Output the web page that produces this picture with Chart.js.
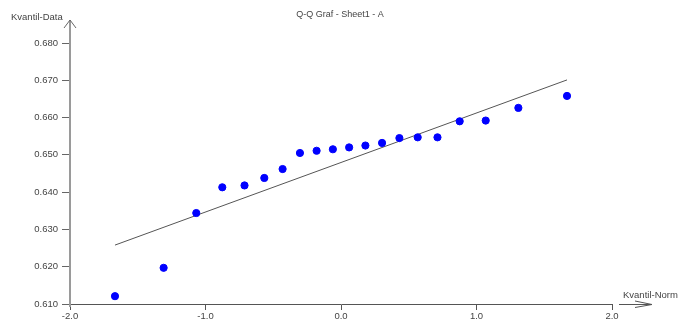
<!DOCTYPE html>
<html>
<head>
<meta charset="utf-8">
<script src="https://cdn.jsdelivr.net/npm/chart.js@4"></script>
<style>
  html, body { margin: 0; padding: 0; background: #ffffff; }
  #wrap { width: 690px; height: 322px; position: relative; }
</style>
</head>
<body>
<div id="wrap"><canvas id="c" width="690" height="322"></canvas></div>
<script>
// ---- data ----
const titleText = "Q-Q Graf - Sheet1 - A";
const yAxisLabel = "Kvantil-Data";
const xAxisLabel = "Kvantil-Norm";
const normQuantiles = [-1.668, -1.309, -1.068, -0.876, -0.712, -0.566, -0.431, -0.303, -0.180, -0.060,
                        0.060,  0.180,  0.303,  0.431,  0.566,  0.712,  0.876,  1.068,  1.309,  1.668];
const dataQuantiles = [0.6121, 0.6197, 0.6344, 0.6413, 0.6418, 0.6438, 0.6462, 0.6505, 0.6511, 0.6515,
                       0.6520, 0.6525, 0.6532, 0.6545, 0.6547, 0.6547, 0.6590, 0.6592, 0.6626, 0.6658];
const fitLineX = [-1.668, 1.668];
const fitLineY = [0.6258, 0.6701];
const xTickValues = [-2.0, -1.0, 0.0, 1.0, 2.0];
const yTickValues = [0.610, 0.620, 0.630, 0.640, 0.650, 0.660, 0.670, 0.680];

const FONT = "'Liberation Sans', Arial, sans-serif";
const TEXT_COLOR = "#444444";

const pointsData = normQuantiles.map((x, i) => ({ x: x, y: dataQuantiles[i] }));
const lineData = fitLineX.map((x, i) => ({ x: x, y: fitLineY[i] }));

const decorPlugin = {
  id: 'decor',
  afterDraw(chart) {
    const ctx = chart.ctx;
    const a = chart.chartArea;
    ctx.save();
    // y axis extension + arrow
    ctx.strokeStyle = '#9a9a9a';
    ctx.lineWidth = 2;
    ctx.beginPath();
    ctx.moveTo(a.left, a.top);
    ctx.lineTo(a.left, a.top - 23);
    ctx.moveTo(a.left, a.bottom);
    ctx.lineTo(a.left, a.bottom + 3);
    ctx.stroke();
    ctx.strokeStyle = '#666666';
    ctx.lineWidth = 1;
    ctx.beginPath();
    ctx.moveTo(a.left - 6, a.top - 15);
    ctx.lineTo(a.left, a.top - 23);
    ctx.lineTo(a.left + 6, a.top - 15);
    ctx.stroke();
    // x axis arrow
    ctx.strokeStyle = '#555555';
    ctx.lineWidth = 1;
    ctx.beginPath();
    ctx.moveTo(a.right + 7, a.bottom + 0.5);
    ctx.lineTo(a.right + 40, a.bottom + 0.5);
    ctx.moveTo(a.right + 23, a.bottom - 3);
    ctx.lineTo(a.right + 40, a.bottom + 0.5);
    ctx.lineTo(a.right + 23, a.bottom + 3.5);
    ctx.stroke();
    // texts
    ctx.fillStyle = TEXT_COLOR;
    ctx.font = "9px " + FONT;
    ctx.textBaseline = 'middle';
    ctx.textAlign = 'center';
    ctx.fillText(titleText, (a.left + a.right) / 2 - 1, 15);
    ctx.textAlign = 'left';
    ctx.font = "9.5px " + FONT;
    ctx.fillText(yAxisLabel, 11, 17);
    ctx.fillText(xAxisLabel, a.right + 11, a.bottom - 9);
    ctx.restore();
  }
};

new Chart(document.getElementById('c'), {
  type: 'scatter',
  data: {
    datasets: [
      {
        label: 'Data',
        data: pointsData,
        backgroundColor: '#0000ff',
        borderColor: '#0000ff',
        pointRadius: 3.6,
        pointHoverRadius: 3.6,
        showLine: false,
        order: 1
      },
      {
        label: 'Fit',
        data: lineData,
        showLine: true,
        borderColor: '#555555',
        borderWidth: 1,
        pointRadius: 0,
        fill: false,
        order: 2
      }
    ]
  },
  options: {
    responsive: false,
    animation: false,
    events: [],
    layout: { padding: { left: 0, right: 78, top: 43, bottom: 0 } },
    plugins: {
      legend: { display: false },
      title: { display: false },
      tooltip: { enabled: false }
    },
    scales: {
      x: {
        type: 'linear',
        min: xTickValues[0],
        max: xTickValues[xTickValues.length - 1],
        afterBuildTicks(scale) { scale.ticks = xTickValues.map(v => ({ value: v })); },
        afterFit(scale) { scale.height = 18; },
        ticks: {
          callback: v => Number(v).toFixed(1),
          color: TEXT_COLOR,
          font: { family: FONT, size: 9.5 },
          padding: 1,
          maxRotation: 0,
          autoSkip: false
        },
        grid: { drawOnChartArea: false, drawTicks: true, tickLength: 6, color: '#555555', tickColor: '#555555' },
        border: { display: true, color: '#555555', width: 1 }
      },
      y: {
        type: 'linear',
        min: yTickValues[0],
        max: yTickValues[yTickValues.length - 1],
        afterBuildTicks(scale) { scale.ticks = yTickValues.map(v => ({ value: v })); },
        afterFit(scale) { scale.width = 70; },
        ticks: {
          callback: v => Number(v).toFixed(3),
          color: TEXT_COLOR,
          font: { family: FONT, size: 9.5 },
          padding: 4,
          autoSkip: false
        },
        grid: { drawOnChartArea: false, drawTicks: true, tickLength: 8, color: '#666666', tickColor: '#666666' },
        border: { display: true, color: '#9a9a9a', width: 2 }
      }
    }
  },
  plugins: [decorPlugin]
});
</script>
</body>
</html>
